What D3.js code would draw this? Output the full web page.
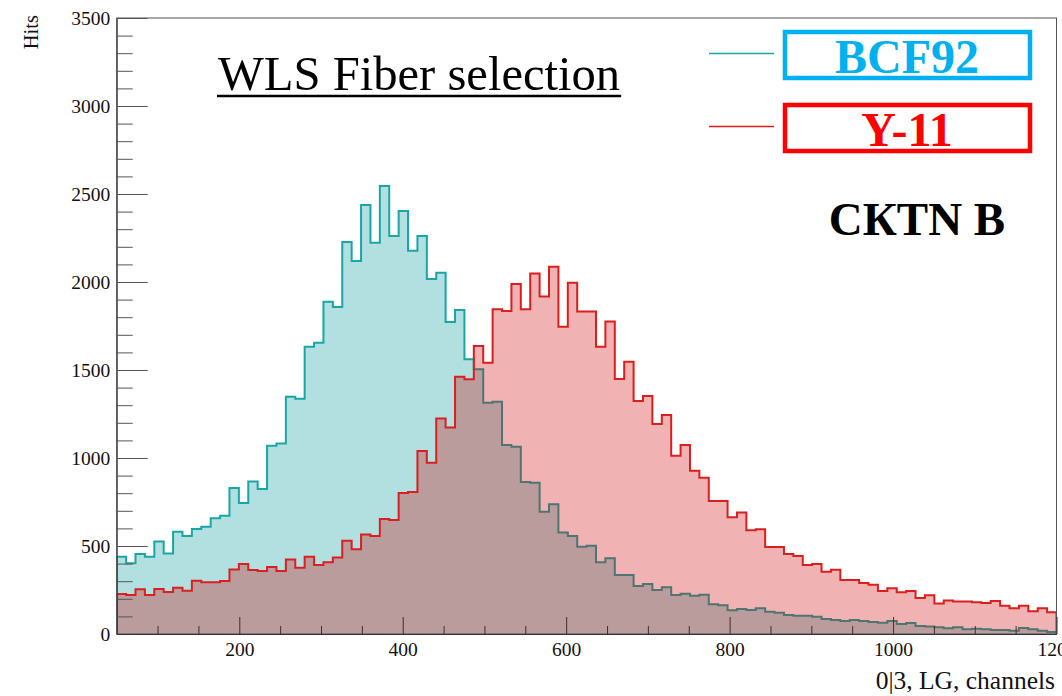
<!DOCTYPE html>
<html>
<head>
<meta charset="utf-8">
<script src="https://cdn.jsdelivr.net/npm/d3@7"></script>
<style>
  html, body { margin: 0; padding: 0; background: #fff; }
  svg { display: block; font-family: "Liberation Serif", "Times New Roman", serif; }
</style>
</head>
<body>
<svg id="chart" width="1062" height="696"></svg>
<script>
// Histogram binning: 100 bins of 11.5 channels starting at channel 50
const binStart = 50;
const binWidth = 11.5;

// Hits per bin, BCF92 fiber
const bcf92Hits = [
  439, 402, 454, 439, 525, 458, 581, 557, 597, 610,
  657, 672, 830, 744, 867, 824, 1070, 1083, 1348, 1337,
  1632, 1655, 1888, 1858, 2227, 2119, 2437, 2223, 2545, 2261,
  2403, 2178, 2261, 2017, 2053, 1773, 1841, 1561, 1504, 1314,
  1320, 1074, 1064, 864, 860, 695, 737, 576, 557, 496,
  502, 407, 430, 335, 335, 273, 284, 250, 265, 222,
  229, 218, 223, 169, 163, 135, 142, 136, 146, 127,
  121, 108, 104, 104, 98, 85, 80, 74, 80, 74,
  68, 64, 74, 57, 62, 45, 42, 38, 32, 38,
  27, 30, 27, 23, 23, 19, 34, 27, 19, 11
];

// Hits per bin, Y-11 fiber
const y11Hits = [
  227, 222, 254, 222, 256, 239, 263, 246, 303, 294,
  294, 301, 367, 398, 364, 358, 381, 358, 424, 377,
  439, 392, 407, 434, 530, 481, 566, 557, 653, 648,
  801, 807, 1040, 973, 1225, 1174, 1462, 1447, 1636, 1541,
  1845, 1835, 1989, 1845, 2049, 1917, 2087, 1746, 1996, 1833,
  1833, 1632, 1775, 1449, 1547, 1324, 1352, 1193, 1244, 1013,
  1074, 928, 888, 756, 756, 663, 691, 589, 595, 494,
  494, 455, 443, 392, 398, 354, 365, 307, 307, 290,
  280, 244, 260, 237, 244, 205, 220, 174, 191, 184,
  184, 180, 176, 188, 161, 146, 161, 129, 146, 123
];

// Axis ticks
const xMajorTicks = [200, 400, 600, 800, 1000, 1200];
const xMinorTicks = d3.range(100, 1200, 50).filter(v => v % 200 !== 0);
const yMajorTicks = [0, 500, 1000, 1500, 2000, 2500, 3000, 3500];
const yMinorTicks = d3.range(100, 3500, 100).filter(v => v % 500 !== 0);

// Texts
const titleText = "WLS Fiber selection";
const legendLabels = ["BCF92", "Y-11"];
const tagText = "CКTN B";
const xTitle = "0|3, LG, channels";
const yTitle = "Hits";

const svg = d3.select("#chart");
const plot = { left: 116.7, right: 1056.5, top: 18, bottom: 634 };
const serif = "'Liberation Serif', 'Times New Roman', serif";

const x = d3.scaleLinear().domain([50, 1200]).range([plot.left, plot.right]);
const y = d3.scaleLinear().domain([0, 3500]).range([plot.bottom, plot.top]);

svg.append("defs").append("clipPath").attr("id", "plotClip")
  .append("rect")
  .attr("x", plot.left).attr("y", plot.top)
  .attr("width", plot.right - plot.left).attr("height", plot.bottom - plot.top);

// Turn bin contents into the corner points of a step outline
function stepPoints(values) {
  const pts = [{ x: binStart, v: 0 }];
  values.forEach((v, i) => {
    pts.push({ x: binStart + i * binWidth, v });
    pts.push({ x: binStart + (i + 1) * binWidth, v });
  });
  pts.push({ x: binStart + values.length * binWidth, v: 0 });
  return pts;
}

const area = d3.area().x(d => x(d.x)).y0(y(0)).y1(d => y(d.v));
const line = d3.line().x(d => x(d.x)).y(d => y(d.v));

const hists = svg.append("g").attr("clip-path", "url(#plotClip)");

const series = [
  { values: bcf92Hits, fill: "rgba(0,153,153,0.30)", stroke: "#1aa6a6" },
  { values: y11Hits, fill: "rgba(204,0,0,0.30)", stroke: "#dc1e1e" }
];

series.forEach(s => {
  const pts = stepPoints(s.values);
  hists.append("path").attr("d", area(pts)).attr("fill", s.fill).attr("stroke", "none");
  hists.append("path").attr("d", line(pts)).attr("fill", "none")
    .attr("stroke", s.stroke).attr("stroke-width", 2).attr("stroke-linejoin", "miter");
});

// Frame
svg.append("rect")
  .attr("x", plot.left).attr("y", plot.top)
  .attr("width", plot.right - plot.left).attr("height", plot.bottom - plot.top)
  .attr("fill", "none").attr("stroke", "#555").attr("stroke-width", 1);

const fmt = d3.format("d");

// Y axis
const yAxisG = svg.append("g").attr("transform", `translate(${plot.left},0)`);
yAxisG.call(d3.axisLeft(y).tickValues(yMajorTicks).tickFormat(fmt)
    .tickSizeInner(-31).tickSizeOuter(0).tickPadding(6.5))
  .call(g => g.select(".domain").attr("stroke", "#333"));
yAxisG.selectAll(".tick line").attr("stroke", "#555");
yAxisG.selectAll(".tick text").attr("font-size", 19.5).attr("fill", "#111")
  .attr("font-family", serif);

const yMinorG = svg.append("g").attr("transform", `translate(${plot.left},0)`);
yMinorG.call(d3.axisLeft(y).tickValues(yMinorTicks).tickSizeInner(-16).tickSizeOuter(0).tickFormat(""))
  .call(g => g.select(".domain").remove());
yMinorG.selectAll(".tick line").attr("stroke", "#555");

// X axis
const xAxisG = svg.append("g").attr("transform", `translate(0,${plot.bottom})`);
xAxisG.call(d3.axisBottom(x).tickValues(xMajorTicks).tickFormat(fmt)
    .tickSizeInner(-17).tickSizeOuter(0).tickPadding(8.5))
  .call(g => g.select(".domain").attr("stroke", "#333"));
xAxisG.selectAll(".tick line").attr("stroke", "#4a2a2a");
xAxisG.selectAll(".tick text").attr("font-size", 19.5).attr("fill", "#111")
  .attr("font-family", serif);

const xMinorG = svg.append("g").attr("transform", `translate(0,${plot.bottom})`);
xMinorG.call(d3.axisBottom(x).tickValues(xMinorTicks).tickSizeInner(-8).tickSizeOuter(0).tickFormat(""))
  .call(g => g.select(".domain").remove());
xMinorG.selectAll(".tick line").attr("stroke", "#4a2a2a");

// Axis titles
svg.append("text")
  .attr("x", 1055).attr("y", 689)
  .attr("text-anchor", "end").attr("font-size", 25.5).attr("fill", "#111")
  .text(xTitle);

svg.append("text")
  .attr("transform", "translate(38,15) rotate(-90)")
  .attr("text-anchor", "end").attr("font-size", 20.5).attr("fill", "#111")
  .text(yTitle);

// Title with underline
const title = svg.append("text")
  .attr("x", 218).attr("y", 90)
  .attr("font-size", 48.6).attr("fill", "#000")
  .text(titleText);
const tw = title.node().getComputedTextLength();
svg.append("line")
  .attr("x1", 217).attr("x2", 218 + tw + 1)
  .attr("y1", 96).attr("y2", 96)
  .attr("stroke", "#000").attr("stroke-width", 2.5);

// Legend
const legendColors = ["#00b0f0", "#ff0000"];
const legendLineColors = ["#1aa6a6", "#dc1e1e"];
const legendRows = [{ boxY: 32, lineY: 53.5, textY: 73 }, { boxY: 105, lineY: 126.5, textY: 146 }];

legendLabels.forEach((label, i) => {
  const r = legendRows[i];
  svg.append("line")
    .attr("x1", 709).attr("x2", 774).attr("y1", r.lineY).attr("y2", r.lineY)
    .attr("stroke", legendLineColors[i]).attr("stroke-width", 1.5);
  svg.append("rect")
    .attr("x", 785).attr("y", r.boxY).attr("width", 245).attr("height", 46)
    .attr("fill", "#fff").attr("stroke", legendColors[i]).attr("stroke-width", 4.5);
  svg.append("text")
    .attr("x", 907).attr("y", r.textY)
    .attr("text-anchor", "middle").attr("font-size", 48).attr("font-weight", "bold")
    .attr("fill", legendColors[i])
    .text(label);
});

svg.append("text")
  .attr("x", 917).attr("y", 235)
  .attr("text-anchor", "middle").attr("font-size", 47).attr("font-weight", "bold")
  .attr("fill", "#000")
  .text(tagText);
</script>
</body>
</html>
